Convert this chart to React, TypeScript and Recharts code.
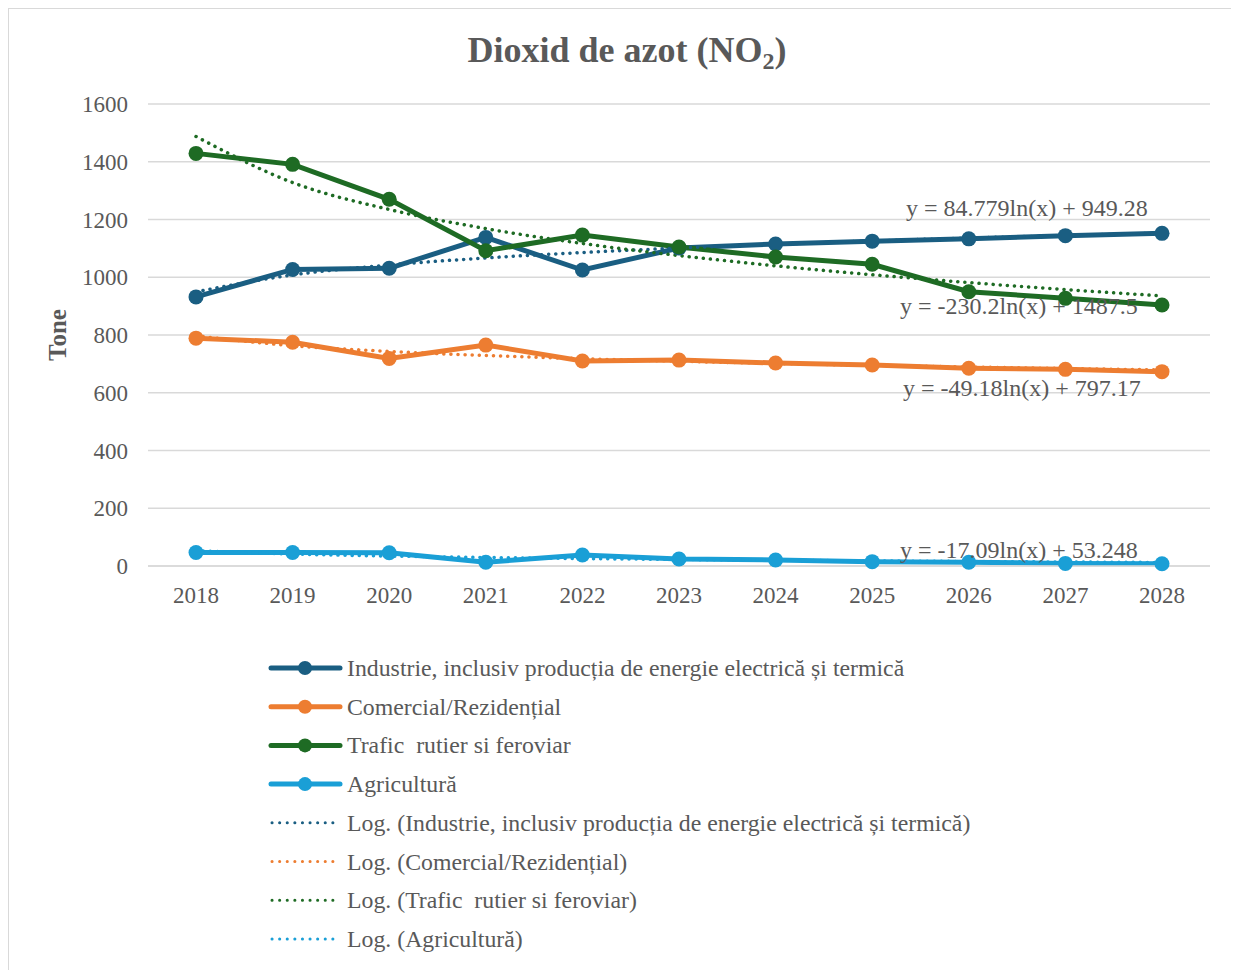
import React from 'react';
import { LineChart, Line, XAxis, YAxis, CartesianGrid } from 'recharts';

const years = ['2018', '2019', '2020', '2021', '2022', '2023', '2024', '2025', '2026', '2027', '2028'];
const industrie = [932, 1027, 1031, 1138, 1025, 1101, 1115, 1125, 1133, 1144, 1152];
const comercial = [789, 775, 719, 765, 710, 713, 703, 696, 685, 681, 673];
const trafic = [1429, 1391, 1270, 1092, 1146, 1105, 1070, 1045, 950, 927, 904];
const agricultura = [47, 47, 46, 13, 38, 24, 21, 15, 13, 9, 8];

// trendline values
const trendIndustrie = [949.3, 1008.0, 1042.4, 1066.8, 1085.7, 1101.2, 1114.3, 1125.6, 1135.6, 1144.5, 1152.6];
const trendComercial = [797.2, 763.1, 743.1, 729.0, 718.0, 709.1, 701.5, 694.9, 689.1, 683.9, 679.2];
const trendTrafic = [1487.5, 1328.0, 1234.6, 1168.4, 1117.0, 1075.0, 1039.6, 1008.8, 981.7, 957.4, 935.5];
const trendAgricultura = [53.2, 41.4, 34.5, 29.6, 25.7, 22.6, 20.0, 17.7, 15.7, 13.9, 12.3];

const yTicks = [0, 200, 400, 600, 800, 1000, 1200, 1400, 1600];

const seriesNames = [
  'Industrie, inclusiv producția de energie electrică și termică',
  'Comercial/Rezidențial',
  'Trafic  rutier si feroviar',
  'Agricultură',
];
const colors = ['#1A5E82', '#ED7D31', '#1E6B24', '#1A9FD6'];
const equations = [
  'y = 84.779ln(x) + 949.28',
  'y = -230.2ln(x) + 1487.5',
  'y = -49.18ln(x) + 797.17',
  'y = -17.09ln(x) + 53.248',
];

const data = years.map((y, i) => ({
  year: y,
  ind: industrie[i],
  com: comercial[i],
  tra: trafic[i],
  agr: agricultura[i],
  tInd: trendIndustrie[i],
  tCom: trendComercial[i],
  tTra: trendTrafic[i],
  tAgr: trendAgricultura[i],
}));

const FONT = '"Liberation Serif", "Times New Roman", serif';
const TXT = '#595959';

const XTick = (props: any) => {
  const { x, y, payload } = props;
  return (
    <text x={x} y={y + 16} textAnchor="middle" fill={TXT} fontFamily={FONT} fontSize={23}>
      {payload.value}
    </text>
  );
};

const YTick = (props: any) => {
  const { x, y, payload } = props;
  return (
    <text x={x} y={y + 8} textAnchor="end" fill={TXT} fontFamily={FONT} fontSize={23}>
      {payload.value}
    </text>
  );
};

export default function App() {
  const mainKeys = ['ind', 'com', 'tra', 'agr'];
  const trendKeys = ['tInd', 'tCom', 'tTra', 'tAgr'];
  return (
    <div
      style={{
        position: 'relative',
        left: -1,
        top: -1,
        width: 1240,
        height: 970,
        borderTop: '2px solid #D9D9D9',
        borderLeft: '2px solid #D9D9D9',
        background: '#fff',
        fontFamily: FONT,
      }}
    >
      <LineChart
        width={1230}
        height={958}
        data={data}
        margin={{ top: 95, right: 29, bottom: 361, left: 59 }}
        style={{ fontFamily: FONT }}
      >
        <CartesianGrid vertical={false} stroke="#D9D9D9" strokeWidth={1.5} />
        <XAxis
          dataKey="year"
          axisLine={{ stroke: '#D9D9D9', strokeWidth: 1.5 }}
          tickLine={false}
          tickMargin={15}
          height={40}
          padding={{ left: 48, right: 48 }}
          tick={<XTick />}
          interval={0}
        />
        <YAxis
          domain={[0, 1600]}
          ticks={yTicks}
          axisLine={false}
          tickLine={false}
          tickMargin={14}
          width={80}
          tick={<YTick />}
        />
        {mainKeys.map((k, i) => (
          <Line
            key={k}
            dataKey={k}
            type="linear"
            stroke={colors[i]}
            strokeWidth={5}
            dot={{ r: 7.5, fill: colors[i], stroke: 'none' }}
            isAnimationActive={false}
          />
        ))}
        {trendKeys.map((k, i) => (
          <Line
            key={k}
            dataKey={k}
            type="monotone"
            stroke={colors[i]}
            strokeWidth={3.5}
            strokeDasharray="0.1 7"
            strokeLinecap="round"
            dot={false}
            isAnimationActive={false}
          />
        ))}
      </LineChart>

      <svg
        width={1230}
        height={958}
        style={{ position: 'absolute', left: 0, top: 0, pointerEvents: 'none' }}
      >
        <text x={618} y={53} textAnchor="middle" fill={TXT} fontFamily={FONT} fontSize={36} fontWeight="bold">
          Dioxid de azot (NO
          <tspan fontSize={24} dy={7}>2</tspan>
          <tspan fontSize={36} dy={-7}>)</tspan>
        </text>
        <text
          x={0}
          y={0}
          transform="translate(57 326) rotate(-90)"
          textAnchor="middle"
          fill={TXT}
          fontFamily={FONT}
          fontSize={25}
          fontWeight="bold"
        >
          Tone
        </text>
        <text x={897} y={207} fill={TXT} fontFamily={FONT} fontSize={24}>{equations[0]}</text>
        <text x={891} y={305} fill={TXT} fontFamily={FONT} fontSize={24}>{equations[1]}</text>
        <text x={894} y={387} fill={TXT} fontFamily={FONT} fontSize={24}>{equations[2]}</text>
        <text x={891} y={549} fill={TXT} fontFamily={FONT} fontSize={24}>{equations[3]}</text>

        {seriesNames.map((name, i) => {
          const cy = 659 + i * 38.7;
          return (
            <g key={'l' + i}>
              <line x1={262} x2={331} y1={cy} y2={cy} stroke={colors[i]} strokeWidth={5} strokeLinecap="round" />
              <circle cx={296} cy={cy} r={7} fill={colors[i]} />
              <text x={338} y={cy + 8} fill={TXT} fontFamily={FONT} fontSize={23.8} style={{ whiteSpace: 'pre' }}>{name}</text>
            </g>
          );
        })}
        {seriesNames.map((name, i) => {
          const cy = 659 + (i + 4) * 38.7;
          return (
            <g key={'t' + i}>
              <line
                x1={263}
                x2={331}
                y1={cy}
                y2={cy}
                stroke={colors[i]}
                strokeWidth={3}
                strokeDasharray="0.1 7.5"
                strokeLinecap="round"
              />
              <text x={338} y={cy + 8} fill={TXT} fontFamily={FONT} fontSize={23.8} style={{ whiteSpace: 'pre' }}>{'Log. (' + name + ')'}</text>
            </g>
          );
        })}
      </svg>
    </div>
  );
}
